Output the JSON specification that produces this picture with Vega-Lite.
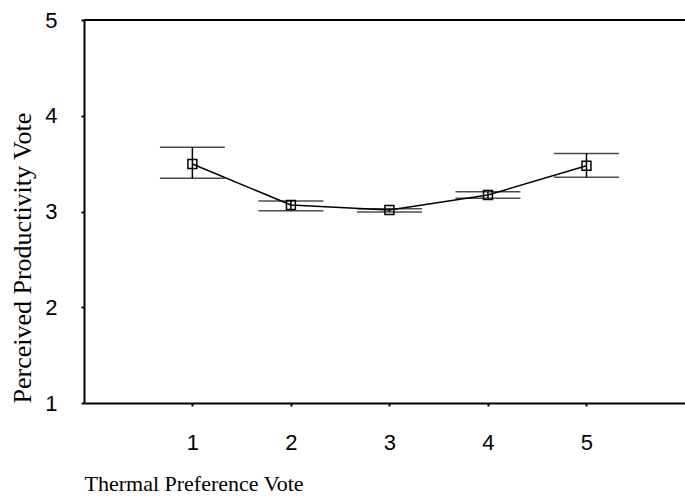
{
  "$schema": "https://vega.github.io/schema/vega-lite/v6.json",
  "width": 601,
  "height": 383,
  "autosize": {"type": "none"},
  "padding": {"left": 84, "top": 20, "right": 0, "bottom": 95},
  "background": "white",
  "config": {
    "view": {"stroke": null},
    "axis": {
      "grid": false,
      "domainColor": "black",
      "domainWidth": 2,
      "tickColor": "black",
      "tickWidth": 2,
      "tickSize": 3,
      "labelFont": "Liberation Sans",
      "labelFontSize": 22,
      "labelColor": "black",
      "titleFont": "Liberation Serif",
      "titleFontSize": 22,
      "titleFontWeight": "normal",
      "titleColor": "black"
    }
  },
  "data": {"values": [
    {"tpv": 1, "mean": 3.496, "lo": 3.347, "hi": 3.670},
    {"tpv": 2, "mean": 3.068, "lo": 3.008, "hi": 3.110},
    {"tpv": 3, "mean": 3.016, "lo": 2.995, "hi": 3.030},
    {"tpv": 4, "mean": 3.172, "lo": 3.138, "hi": 3.207},
    {"tpv": 5, "mean": 3.478, "lo": 3.357, "hi": 3.607}
  ]},
  "layer": [
    {
      "mark": {"type": "rule", "color": "black", "strokeWidth": 1.5},
      "encoding": {
        "x": {"field": "tpv", "type": "quantitative",
          "scale": {"domain": [-0.1, 6.0], "nice": false, "zero": false},
          "axis": {"values": [1, 2, 3, 4, 5], "title": "Thermal Preference Vote", "titleAnchor": "start", "titleAlign": "left", "labelPadding": 26, "titlePadding": 20, "format": "d"}},
        "y": {"field": "lo", "type": "quantitative",
          "scale": {"domain": [1, 5], "nice": false, "zero": false},
          "axis": {"values": [1, 2, 3, 4, 5], "title": "Perceived Productivity Vote", "titleAnchor": "start", "titleAlign": "left", "titleFontSize": 26, "labelPadding": 24, "titlePadding": 9, "format": "d"}},
        "y2": {"field": "hi"}
      }
    },
    {
      "mark": {"type": "tick", "orient": "horizontal", "color": "black", "size": 65, "thickness": 1.5},
      "encoding": {
        "x": {"field": "tpv", "type": "quantitative"},
        "y": {"field": "lo", "type": "quantitative"}
      }
    },
    {
      "mark": {"type": "tick", "orient": "horizontal", "color": "black", "size": 65, "thickness": 1.5},
      "encoding": {
        "x": {"field": "tpv", "type": "quantitative"},
        "y": {"field": "hi", "type": "quantitative"}
      }
    },
    {
      "mark": {"type": "line", "color": "black", "strokeWidth": 1.5},
      "encoding": {
        "x": {"field": "tpv", "type": "quantitative"},
        "y": {"field": "mean", "type": "quantitative"}
      }
    },
    {
      "mark": {"type": "point", "shape": "square", "filled": false, "stroke": "black", "strokeWidth": 1.5, "size": 80, "opacity": 1},
      "encoding": {
        "x": {"field": "tpv", "type": "quantitative"},
        "y": {"field": "mean", "type": "quantitative"}
      }
    },
    {
      "data": {"values": [{}]},
      "mark": {"type": "rule", "color": "black", "strokeWidth": 2},
      "encoding": {"y": {"datum": 5}}
    }
  ]
}
